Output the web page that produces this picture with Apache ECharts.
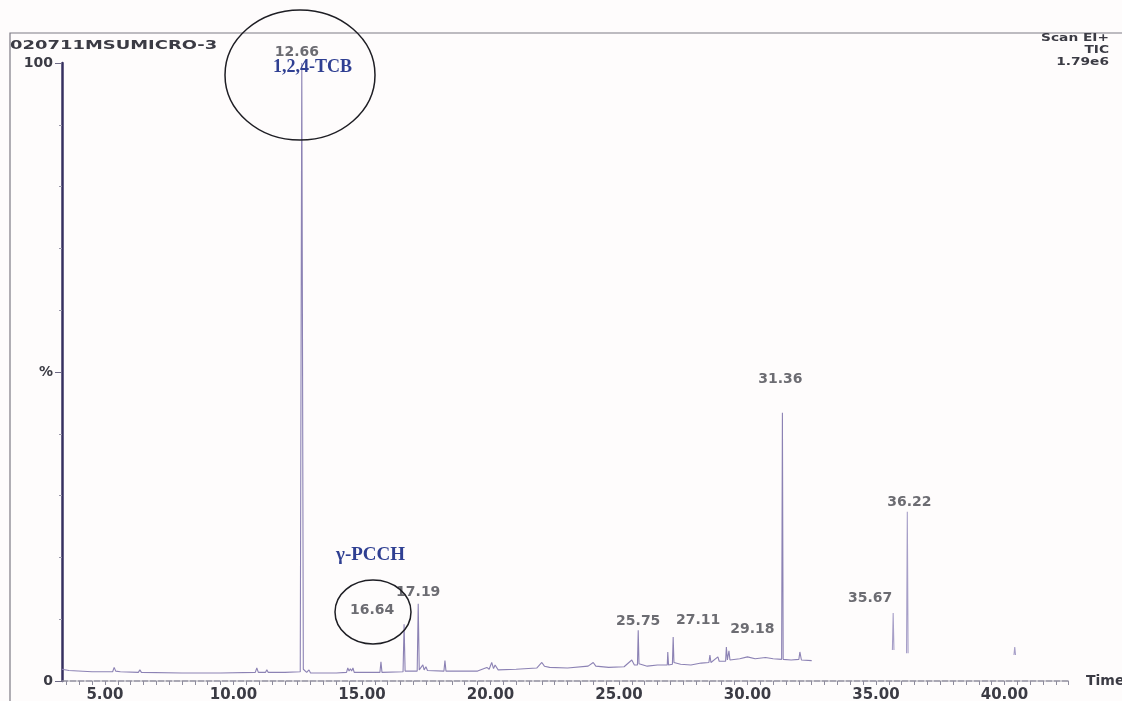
<!DOCTYPE html>
<html>
<head>
<meta charset="utf-8">
<title>020711MSUMICRO-3</title>
<script src="https://cdn.jsdelivr.net/npm/echarts@6/dist/echarts.min.js"></script>
<style>
  html, body { margin: 0; padding: 0; background: #fefcfc; }
  #main { width: 1122px; height: 701px; }
</style>
</head>
<body>
<div id="main"></div>
<script>
// chromatogram trace (retention time in min, relative intensity %)
const traceTimes = [
  3.33, 3.6, 4.5, 5.3, 5.36, 5.42, 5.6, 6.3, 6.36, 6.42, 8.0, 9.5,
  10.85, 10.91, 10.97, 11.25, 11.3, 11.35, 12.0, 12.6, 12.66, 12.72, 12.85, 12.94, 13.0,
  14.0, 14.4, 14.45, 14.5, 14.55, 14.6, 14.65, 14.7, 15.7, 15.74, 15.78,
  16.6, 16.64, 16.68, 17.15, 17.19, 17.23, 17.37, 17.42, 17.49, 17.55,
  18.19, 18.23, 18.27, 19.5, 19.86, 19.95, 20.05, 20.12, 20.18, 20.3,
  21.0, 21.8, 22.0, 22.1, 22.3, 23.0, 23.8, 24.0, 24.1, 24.6, 25.2, 25.5, 25.6,
  25.72, 25.75, 25.78, 26.1, 26.5, 26.88, 26.9, 26.93, 27.08, 27.11, 27.14,
  27.4, 27.8, 28.2, 28.5, 28.54, 28.58, 28.85, 28.9, 29.15, 29.18, 29.22, 29.28, 29.32,
  29.7, 30.0, 30.3, 30.7, 31.0, 31.33, 31.36, 31.39, 31.7, 32.0, 32.04, 32.1, 32.5
];
const traceIntensity = [
  1.9, 1.7, 1.5, 1.5, 2.2, 1.6, 1.5, 1.4, 1.8, 1.4, 1.3, 1.3,
  1.4, 2.1, 1.4, 1.4, 1.8, 1.4, 1.4, 1.5, 100, 1.9, 1.4, 1.8, 1.3,
  1.3, 1.4, 2.1, 1.6, 2.0, 1.6, 2.1, 1.4, 1.4, 3.1, 1.4,
  1.5, 9.2, 1.6, 1.6, 12.5, 1.8, 2.6, 1.8, 2.3, 1.7,
  1.6, 3.3, 1.6, 1.6, 2.2, 1.9, 3.0, 2.0, 2.6, 1.8,
  1.9, 2.1, 3.0, 2.4, 2.2, 2.1, 2.4, 3.0, 2.4, 2.2, 2.3, 3.4, 2.6,
  2.6, 8.2, 2.8, 2.4, 2.6, 2.6, 4.7, 2.6, 2.7, 7.1, 3.0,
  2.7, 2.6, 2.9, 3.0, 4.2, 3.0, 3.9, 3.2, 3.2, 5.5, 3.4, 4.9, 3.4,
  3.6, 3.9, 3.6, 3.8, 3.6, 3.5, 43.4, 3.5, 3.4, 3.5, 4.7, 3.4, 3.3
];

// late part of the run, where only the peaks show on the scan
const lateTimes = [35.64, 35.67, 35.70, 35.9, 36.19, 36.22, 36.25, 38.0, 40.37, 40.4, 40.43];
const lateIntensity = [5.0, 11.0, 5.0, null, 4.5, 27.4, 4.5, null, 4.2, 5.5, 4.2];

// labelled peaks
const peakTimes = [12.66, 16.64, 17.19, 25.75, 27.11, 29.18, 31.36, 35.67, 36.22];
const peakHeights = [100, 9.2, 12.5, 8.2, 7.1, 5.5, 43.4, 11.0, 27.4];

// axis ticks
const xTickValues = [5, 10, 15, 20, 25, 30, 35, 40];
const yTickValues = [0, 50, 100];
const yTickLabels = ['0', '%', '100'];

// where each peak label sits relative to its peak top
const labelOffsets = [[-5, 2], [-32, -1], [0, 1], [0, 4], [25, -4], [26, -5], [-2, -21], [-23, -2], [2, 3]];

let minorTicks = [];
for (let t = 3.5; t <= 42.5; t += 0.5) {
  minorTicks.push(+t.toFixed(1));
}

const chart = echarts.init(document.getElementById('main'), null, { renderer: 'canvas' });

const textColor = '#3b3b44';
const traceColor = '#8c82b4';

let option = {
  backgroundColor: '#fefcfc',
  animation: false,
  grid: {
    left: 62,
    right: 52,
    top: 63,
    bottom: 20,
    outerBoundsMode: 'none',
  },
  xAxis: {
    type: 'value',
    min: 3.33,
    max: 42.55,
    name: 'Time',
    nameLocation: 'end',
    nameGap: 16,
    nameTextStyle: {
      color: textColor,
      fontFamily: 'DejaVu Sans',
      fontWeight: 'bold',
      fontSize: 14,
      verticalAlign: 'middle',
      padding: [6, 0, 0, 0],
    },
    splitLine: { show: false },
    axisLine: {
      lineStyle: { color: '#8e8c9c', width: 1.5, type: [6, 2] },
    },
    axisTick: {
      show: true,
      length: 4,
      customValues: minorTicks,
      lineStyle: { color: '#8e8c9c', width: 1 },
    },
    axisLabel: {
      customValues: xTickValues,
      formatter: function (value) {
        return value.toFixed(2);
      },
      margin: 7,
      color: textColor,
      fontFamily: 'DejaVu Sans',
      fontWeight: 'bold',
      fontSize: 15,
    },
  },
  yAxis: {
    type: 'value',
    min: 0,
    max: 100,
    interval: 50,
    splitLine: { show: false },
    axisLine: {
      show: true,
      lineStyle: { color: '#363060', width: 2.5 },
    },
    axisTick: {
      show: true,
      length: 7,
      lineStyle: { color: '#6e6a86', width: 1 },
    },
    minorTick: {
      show: true,
      splitNumber: 5,
      length: 3,
      lineStyle: { color: '#9a98aa' },
    },
    axisLabel: {
      margin: 9,
      color: textColor,
      fontFamily: 'DejaVu Sans',
      fontWeight: 'bold',
      fontSize: 14,
      formatter: function (value) {
        let i = yTickValues.indexOf(value);
        return i >= 0 ? yTickLabels[i] : '';
      },
    },
  },
  series: [
    {
      name: 'TIC',
      type: 'line',
      data: traceTimes.map((t, i) => [t, traceIntensity[i]]),
      symbol: 'none',
      lineStyle: { color: traceColor, width: 1.1 },
      silent: true,
      z: 3,
    },
    {
      name: 'TIC late',
      type: 'line',
      data: lateTimes.map((t, i) => [t, lateIntensity[i]]),
      connectNulls: false,
      symbol: 'none',
      lineStyle: { color: '#a79fc8', width: 1.1 },
      silent: true,
      z: 3,
    },
    {
      name: 'peak labels',
      type: 'scatter',
      symbolSize: 1,
      itemStyle: { color: 'rgba(0,0,0,0)' },
      data: peakTimes.map((t, i) => ({
        value: [t, peakHeights[i]],
        label: { offset: labelOffsets[i] },
      })),
      label: {
        show: true,
        position: 'top',
        distance: 5,
        formatter: function (p) {
          return p.value[0].toFixed(2);
        },
        color: '#47474f',
        fontFamily: 'DejaVu Sans',
        fontWeight: 'bold',
        fontSize: 14,
      },
      silent: true,
      z: 4,
    },
  ],
  graphic: [
    // scan frame
    {
      type: 'polyline',
      shape: { points: [[10, 701], [10, 33], [1122, 33]] },
      style: { stroke: '#7c7a84', lineWidth: 1.2, fill: null },
      silent: true,
    },
    {
      type: 'text',
      x: 10,
      y: 39,
      scaleX: 1.38,
      style: {
        text: '020711MSUMICRO-3',
        fill: textColor,
        font: 'bold 13px "DejaVu Sans"',
        textVerticalAlign: 'top',
      },
      silent: true,
    },
    {
      type: 'text',
      x: 1109,
      y: 32,
      scaleX: 1.25,
      style: {
        text: 'Scan EI+\nTIC\n1.79e6',
        fill: textColor,
        font: 'bold 11px "DejaVu Sans"',
        textAlign: 'right',
        textVerticalAlign: 'top',
        lineHeight: 12,
      },
      silent: true,
    },
    // annotations
    {
      type: 'ellipse',
      shape: { cx: 300, cy: 75, rx: 75, ry: 65 },
      style: { stroke: '#1e1e24', lineWidth: 1.5, fill: null },
      silent: true,
      z: 10,
    },
    {
      type: 'ellipse',
      shape: { cx: 373, cy: 612, rx: 38, ry: 32 },
      style: { stroke: '#1e1e24', lineWidth: 1.5, fill: null },
      silent: true,
      z: 10,
    },
    {
      type: 'text',
      x: 273,
      y: 67,
      style: {
        text: '1,2,4-TCB',
        fill: '#2f3f92',
        font: 'bold 18px "Liberation Serif"',
        textVerticalAlign: 'middle',
      },
      silent: true,
      z: 10,
    },
    {
      type: 'text',
      x: 336,
      y: 555,
      style: {
        text: 'γ-PCCH',
        fill: '#2f3f92',
        font: 'bold 19px "Liberation Serif"',
        textVerticalAlign: 'middle',
      },
      silent: true,
      z: 10,
    },
  ],
};

chart.setOption(option);
</script>
</body>
</html>
